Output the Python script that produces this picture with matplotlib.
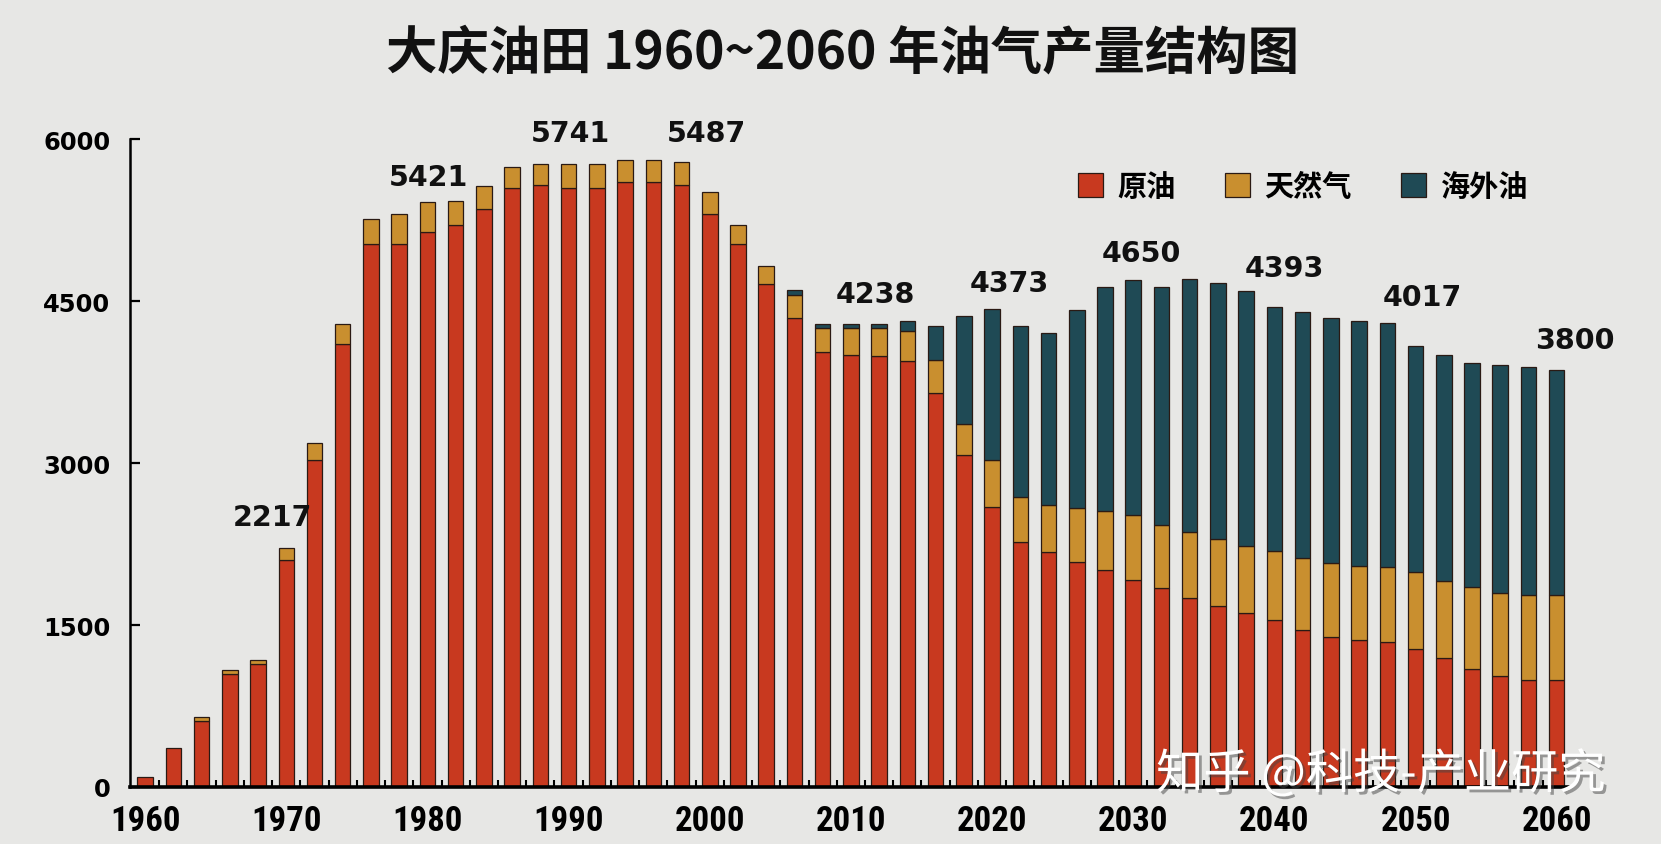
import numpy as np
import matplotlib
matplotlib.use("Agg")
import matplotlib.pyplot as plt
import matplotlib.patheffects as pe
from matplotlib.font_manager import FontProperties

# ---------------- data ----------------
years = list(range(1960, 2061, 2))
crude = [90, 360, 610, 1045, 1140, 2100, 3030, 4100, 5030, 5030,
         5135, 5200, 5350, 5545, 5575, 5550, 5550, 5605, 5605, 5575,
         5310, 5030, 4655, 4345, 4030, 4000, 3995, 3940, 3650, 3070,
         2590, 2270, 2175, 2085, 2010, 1920, 1845, 1750, 1680, 1615,
         1548, 1457, 1386, 1361, 1340, 1278, 1194, 1093, 1031, 994, 994]
gas = [0, 0, 35, 40, 40, 115, 155, 185, 230, 275,
       285, 225, 215, 200, 195, 220, 220, 205, 205, 210,
       200, 175, 165, 215, 220, 250, 255, 285, 300, 290,
       440, 415, 440, 500, 545, 595, 585, 610, 620, 620,
       640, 660, 685, 688, 694, 710, 717, 756, 762, 787, 787]
overseas = [0, 0, 0, 0, 0, 0, 0, 0, 0, 0,
            0, 0, 0, 0, 0, 0, 0, 0, 0, 0,
            0, 0, 0, 45, 37, 37, 37, 93, 320, 1005,
            1395, 1580, 1590, 1830, 2075, 2180, 2200, 2340, 2370, 2360,
            2255, 2280, 2270, 2270, 2262, 2095, 2089, 2080, 2111, 2105, 2080]
series_names = ["原油", "天然气", "海外油"]

label_years = [1970, 1980, 1990, 2000, 2010, 2020, 2030, 2040, 2050, 2060]
label_values = [2217, 5421, 5741, 5487, 4238, 4373, 4650, 4393, 4017, 3800]

yticks = [0, 1500, 3000, 4500, 6000]
xtick_years = list(range(1960, 2061, 10))
title = "大庆油田 1960~2060 年油气产量结构图"
watermark = "知乎 @科技-产业研究"

# ---------------- style ----------------
BG = "#E7E7E5"
C_CRUDE = "#C8391F"
C_GAS = "#C98F2F"
C_OVER = "#1F4A55"
EDGE = "#2a1a14"
CJK = ["Noto Sans CJK SC", "DejaVu Sans"]
NARROW = ["Roboto Condensed", "Open Sans Condensed", "Liberation Sans Narrow",
          "Arial Narrow", "DejaVu Sans"]

# label placement (layout only): x shift in years, y position in data units
label_dx = [-1.0, 0.1, 0.1, -0.2, 1.7, 1.2, 0.6, 0.7, 0.5, 1.3]
label_y = [2500, 5648, 6051, 6051, 4569, 4667, 4944, 4805, 4540, 4139]

fig = plt.figure(figsize=(16.61, 8.45), dpi=100, facecolor=BG)
ax = fig.add_axes([130 / 1661, 57 / 845, 1438 / 1661, 648 / 845])
ax.set_facecolor(BG)

x = np.array(years, dtype=float)
c = np.array(crude, dtype=float)
g = np.array(gas, dtype=float)
o = np.array(overseas, dtype=float)
W = 1.1

h1 = ax.bar(x, c, width=W, color=C_CRUDE, edgecolor=EDGE, linewidth=0.9, label=series_names[0])
mg = g > 0
h2 = ax.bar(x[mg], g[mg], bottom=c[mg], width=W, color=C_GAS, edgecolor=EDGE, linewidth=0.9,
            label=series_names[1])
mo = o > 0
h3 = ax.bar(x[mo], o[mo], bottom=(c + g)[mo], width=W, color=C_OVER, edgecolor=EDGE, linewidth=0.9,
            label=series_names[2])

ax.set_xlim(1958.93, 2060.8)
ax.set_ylim(0, 6000)

for sp in ["top", "right"]:
    ax.spines[sp].set_visible(False)
ax.spines["left"].set_linewidth(1.8)
ax.spines["bottom"].set_linewidth(2.6)

ax.set_yticks(yticks)
ax.set_yticklabels([str(v) for v in yticks])
ax.tick_params(axis="y", direction="in", length=7, width=1.6, pad=14)
for t in ax.get_yticklabels():
    t.set_fontfamily("DejaVu Sans")
    t.set_fontweight("bold")
    t.set_fontsize(17.5)

ax.set_xticks(xtick_years)
ax.set_xticklabels([str(v) for v in xtick_years])
ax.set_xticks([yy + 1 for yy in years[:-1]], minor=True)
ax.tick_params(axis="x", which="major", length=0, pad=12.5)
ax.tick_params(axis="x", which="minor", direction="in", length=5, width=1.5)
for t in ax.get_xticklabels():
    t.set_fontfamily(NARROW)
    t.set_fontstretch("condensed")
    t.set_fontweight("bold")
    t.set_fontsize(25)

for yr, val, dx, yy in zip(label_years, label_values, label_dx, label_y):
    ax.text(yr + dx, yy, str(val), ha="center", va="center", fontsize=20.5,
            fontweight="bold", family="DejaVu Sans", color="#111111")

leg = ax.legend(handles=[h1, h2, h3], ncol=3, loc="center",
                bbox_to_anchor=(1303 / 1661, 1 - 187 / 845), bbox_transform=fig.transFigure,
                frameon=False, prop=FontProperties(family=CJK, weight="bold", size=21),
                handlelength=0.85, handleheight=0.85, handletextpad=0.5, columnspacing=1.7)

fig.text(842 / 1661, 1 - 53 / 845, title, ha="center", va="center", fontsize=37,
         fontweight="bold", family=CJK, color="#111111")

fig.text(1381 / 1661, 1 - 776 / 845, watermark, ha="center", va="center", fontsize=34,
         family=CJK, color="white",
         path_effects=[pe.SimplePatchShadow(offset=(2, -2), shadow_rgbFace="#444444", alpha=0.5),
                       pe.Normal()])

fig.savefig("out.png", dpi=100, facecolor=BG)
